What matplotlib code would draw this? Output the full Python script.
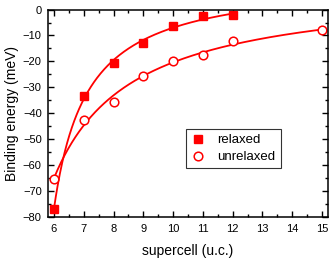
import numpy as np
import matplotlib
matplotlib.use("Agg")
import matplotlib.pyplot as plt
from matplotlib.ticker import MultipleLocator

plt.rcParams['font.family'] = ['Liberation Sans', 'DejaVu Sans']

# data
cell_relaxed = np.array([6, 7, 8, 9, 10, 11, 12])
e_relaxed = np.array([-77.0, -33.5, -20.5, -13.0, -6.5, -2.5, -2.0])
cell_unrelaxed = np.array([6, 7, 8, 9, 10, 11, 12, 15])
e_unrelaxed = np.array([-65.5, -42.5, -35.5, -25.5, -20.0, -17.5, -12.0, -8.0])


def fit_hyper(x, y, x0s):
    # y = c - A/(x - x0), pick x0 by grid search, c and A by least squares
    best = None
    for x0 in x0s:
        M = np.column_stack([np.ones_like(x, dtype=float), -1.0 / (x - x0)])
        coef, res, _, _ = np.linalg.lstsq(M, y, rcond=None)
        err = np.sum((M @ coef - y) ** 2)
        if best is None or err < best[0]:
            best = (err, x0, coef)
    return best[1], best[2]


red = '#ff0000'
fig = plt.figure(figsize=(3.31, 2.58), dpi=100)
ax = fig.add_axes([0.145, 0.159, 0.846, 0.804])

x0, c = fit_hyper(cell_relaxed, e_relaxed, np.linspace(4.0, 5.95, 400))
xs = np.linspace(6, 12, 300)
ax.plot(xs, c[0] - c[1] / (xs - x0), '-', color=red, lw=1.3)

x0u, cu = fit_hyper(cell_unrelaxed, e_unrelaxed, np.linspace(2.0, 5.9, 400))
xu = np.linspace(6, 15, 300)
ax.plot(xu, cu[0] - cu[1] / (xu - x0u), '-', color=red, lw=1.3)

ax.plot(cell_relaxed, e_relaxed, 's', color=red, ms=5.2, ls='none', label='relaxed')
ax.plot(cell_unrelaxed, e_unrelaxed, 'o', mfc='white', mec=red, mew=1.1, ms=6.2,
        ls='none', label='unrelaxed')

ax.set_xlim(5.8, 15.2)
ax.set_ylim(-80, 0)
ax.xaxis.set_major_locator(MultipleLocator(1))
ax.xaxis.set_minor_locator(MultipleLocator(0.5))
ax.yaxis.set_major_locator(MultipleLocator(10))
ax.yaxis.set_minor_locator(MultipleLocator(5))
ax.tick_params(which='both', direction='in', top=True, right=True, labelsize=8, width=1)
ax.tick_params(which='major', length=4)
ax.tick_params(which='minor', length=2)
ax.tick_params(axis='x', pad=5)
ax.tick_params(axis='y', pad=4.5)
for s in ax.spines.values():
    s.set_linewidth(1.1)

ax.set_xlabel('supercell (u.c.)', fontsize=10, labelpad=7)
ax.set_ylabel('Binding energy (meV)', fontsize=10, labelpad=3)

leg = ax.legend(loc='upper left', bbox_to_anchor=(0.468, 0.457), fontsize=9.5,
                frameon=True, fancybox=False, edgecolor='black', handlelength=1.0,
                handletextpad=1.0, borderpad=0.4, labelspacing=0.35)
leg.get_frame().set_linewidth(0.8)

fig.savefig('out.png', dpi=100)
